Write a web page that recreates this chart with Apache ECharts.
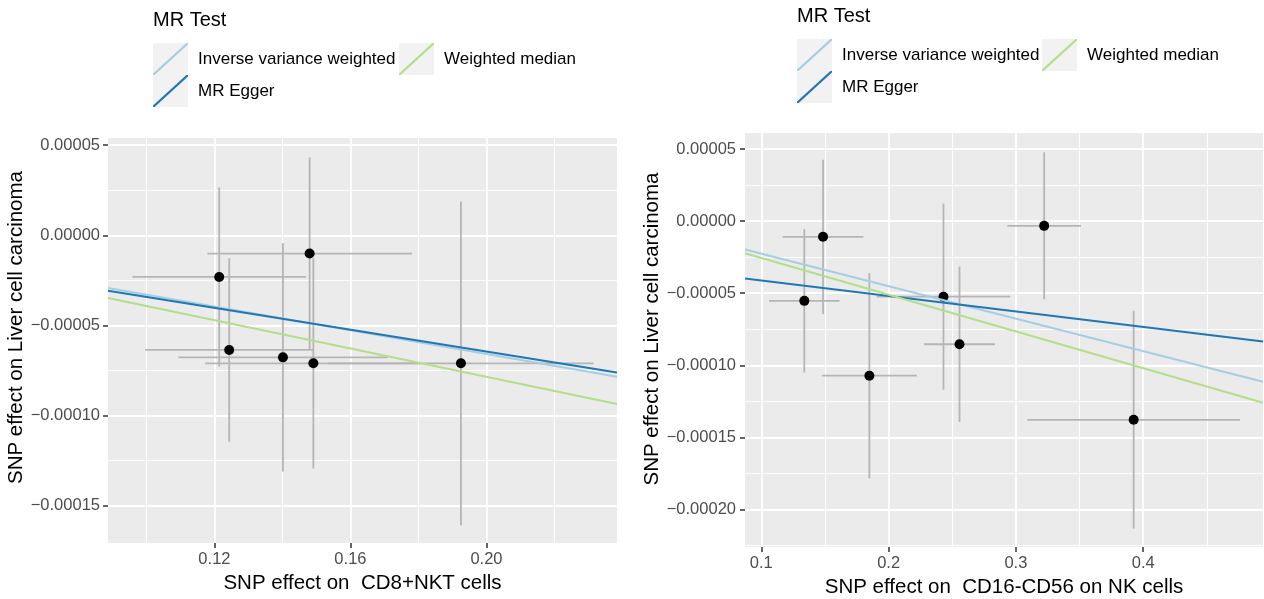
<!DOCTYPE html>
<html>
<head>
<meta charset="utf-8">
<title>MR scatter plots</title>
<script src="https://cdn.jsdelivr.net/npm/echarts@6.0.0/dist/echarts.min.js"></script>
<style>
  html, body { margin: 0; padding: 0; background: #fff; }
  #chart { width: 1264px; height: 599px; }
</style>
</head>
<body>
<div id="chart"></div>
<script>
// methods and their colours (legend order)
const methods = ['Inverse variance weighted', 'MR Egger', 'Weighted median'];
const methodColors = ['#A6CEE3', '#1F78B4', '#B2DF8A'];

// left panel: CD8+NKT cells -> liver cell carcinoma
const nktX = [0.1214, 0.12435, 0.14015, 0.1480, 0.1491, 0.1925];
const nktY = [-0.0000231, -0.0000636, -0.0000677, -0.0000101, -0.0000710, -0.0000710];
const nktSeX = [0.0255, 0.02475, 0.03075, 0.0301, 0.0318, 0.0390];
const nktSeY = [0.0000497, 0.0000509, 0.0000634, 0.0000533, 0.0000583, 0.0000898];
const nktSlope = [-0.000329, -0.000303, -0.0003926];
const nktIntercept = [0, -0.0000039, 0];
const nktXRange = [0.0887, 0.2384];
const nktYRange = [-0.0001707, 0.000054];
const nktXTicks = [0.12, 0.16, 0.20];
const nktXMinor = [0.10, 0.14, 0.18, 0.22];
const nktYTicks = [-0.00015, -0.0001, -0.00005, 0, 0.00005];
const nktYMinor = [-0.000125, -0.000075, -0.000025, 0.000025];

// right panel: CD16-CD56 on NK cells -> liver cell carcinoma
const nkX = [0.1338, 0.1485, 0.1849, 0.2431, 0.2557, 0.3222, 0.3925];
const nkY = [-0.0000553, -0.0000109, -0.0001072, -0.0000524, -0.0000854, -0.0000033, -0.0001378];
const nkSeX = [0.0277, 0.0317, 0.0373, 0.0524, 0.0278, 0.0289, 0.0835];
const nkSeY = [0.0000497, 0.0000535, 0.0000712, 0.0000645, 0.0000539, 0.0000510, 0.0000755];
const nkSlope = [-0.0002255, -0.0001074, -0.000255];
const nkIntercept = [0, -0.0000305, 0];
const nkXRange = [0.0872, 0.4941];
const nkYRange = [-0.000226, 0.0000611];
const nkXTicks = [0.1, 0.2, 0.3, 0.4];
const nkXMinor = [0.15, 0.25, 0.35, 0.45];
const nkYTicks = [-0.0002, -0.00015, -0.0001, -0.00005, 0, 0.00005];
const nkYMinor = [-0.000225, -0.000175, -0.000125, -0.000075, -0.000025, 0.000025];

const FONT = 'Liberation Sans, Arial, sans-serif';

function fmtY(v) {
    if (Math.abs(v) < 1e-12) return '0.00000';
    return (v < 0 ? '\u2212' : '') + Math.abs(v).toFixed(5);
}

// main axis (labels, ticks, major grid) + hidden axis for the minor grid
function makeAxes(gridIndex, range, major, minor, fmt, title, pos, nameGap, labelMargin, namePad) {
    const main = {
        type: 'value', gridIndex: gridIndex, min: range[0], max: range[1], position: pos,
        name: title, nameLocation: 'middle', nameGap: nameGap,
        nameTextStyle: { fontFamily: FONT, fontSize: 20.5, color: '#000', padding: namePad || 0 },
        axisLine: { show: false, onZero: false },
        axisTick: { show: true, length: 5, customValues: major, lineStyle: { color: '#333', width: 1.5 } },
        axisLabel: { customValues: major, formatter: fmt, fontFamily: FONT, fontSize: 16.5, color: '#4D4D4D', margin: labelMargin },
        splitLine: { show: true, lineStyle: { color: '#fff', width: 1.8 } }
    };
    const minorAxis = {
        type: 'value', gridIndex: gridIndex, min: range[0], max: range[1], position: pos,
        axisLine: { show: false, onZero: false },
        axisTick: { show: false, customValues: minor },
        axisLabel: { show: false, customValues: minor },
        splitLine: { show: true, lineStyle: { color: '#fff', width: 0.9 } }
    };
    return [main, minorAxis];
}

function errorBars(xs, ys, sx, sy, axisIdx) {
    return {
        type: 'custom', xAxisIndex: axisIdx, yAxisIndex: axisIdx, silent: true, z: 2,
        data: xs.map((x, i) => [x, ys[i], sx[i], sy[i]]),
        renderItem: function (params, api) {
            const x = api.value(0), y = api.value(1), ex = api.value(2), ey = api.value(3);
            const v0 = api.coord([x, y - ey]), v1 = api.coord([x, y + ey]);
            const h0 = api.coord([x - ex, y]), h1 = api.coord([x + ex, y]);
            const style = { stroke: '#B5B5B5', lineWidth: 1.8 };
            return {
                type: 'group',
                children: [
                    { type: 'line', shape: { x1: v0[0], y1: v0[1], x2: v1[0], y2: v1[1] }, style: style },
                    { type: 'line', shape: { x1: h0[0], y1: h0[1], x2: h1[0], y2: h1[1] }, style: style }
                ]
            };
        }
    };
}

function points(xs, ys, axisIdx) {
    return {
        type: 'scatter', xAxisIndex: axisIdx, yAxisIndex: axisIdx, silent: true, z: 3,
        symbolSize: 10, itemStyle: { color: '#000', opacity: 1 },
        data: xs.map((x, i) => [x, ys[i]])
    };
}

// one abline per method, drawn across the x range
function ablines(slope, intercept, xRange, axisIdx) {
    return methods.map((m, k) => ({
        type: 'line', name: m, xAxisIndex: axisIdx, yAxisIndex: axisIdx, z: 4,
        symbol: 'none', silent: true,
        lineStyle: { color: methodColors[k], width: 2 },
        itemStyle: { color: methodColors[k] },
        data: xRange.map(x => [x, intercept[k] + slope[k] * x])
    }));
}

const keyIcon = 'path://M0,32L1.6,32L35,1.5L35,0L33.4,0L0,30.5Z';
function legendItem(k, left, top) {
    return {
        left: left, top: top, padding: 0, itemWidth: 35, itemHeight: 32,
        selectedMode: false,
        data: [{ name: methods[k], icon: keyIcon, itemStyle: { color: methodColors[k], borderWidth: 0 } }],
        textStyle: { fontFamily: FONT, fontSize: 17, color: '#000', padding: [0, 0, 0, 5] }
    };
}
function keyBox(left, top) {
    return { type: 'rect', left: left, top: top, z: -1, shape: { width: 35, height: 32 }, style: { fill: '#F2F2F2' } };
}

const lx = makeAxes(0, nktXRange, nktXTicks, nktXMinor, v => v.toFixed(2), 'SNP effect on  CD8+NKT cells', 'bottom', 22, 8);
const ly = makeAxes(0, nktYRange, nktYTicks, nktYMinor, fmtY, 'SNP effect on Liver cell carcinoma', 'left', 77, 8, [0, 0, 0, 26]);
const rx = makeAxes(1, nkXRange, nkXTicks, nkXMinor, v => v.toFixed(1), 'SNP effect on  CD16-CD56 on NK cells', 'bottom', 26, 8);
const ry = makeAxes(1, nkYRange, nkYTicks, nkYMinor, fmtY, 'SNP effect on Liver cell carcinoma', 'left', 82, 9, [0, 0, 0, 22]);

const chart = echarts.init(document.getElementById('chart'));
chart.setOption({
    animation: false,
    backgroundColor: '#fff',
    textStyle: { fontFamily: FONT },
    title: [
        { text: 'MR Test', left: 153, top: 10, padding: 0, textStyle: { fontFamily: FONT, fontSize: 20, fontWeight: 'normal', color: '#000' } },
        { text: 'MR Test', left: 797, top: 6, padding: 0, textStyle: { fontFamily: FONT, fontSize: 20, fontWeight: 'normal', color: '#000' } }
    ],
    legend: [
        legendItem(0, 153, 43), legendItem(2, 399, 43), legendItem(1, 153, 75),
        legendItem(0, 797, 39), legendItem(2, 1042, 39), legendItem(1, 797, 71)
    ],
    graphic: [
        keyBox(153, 43), keyBox(399, 43), keyBox(153, 75),
        keyBox(797, 39), keyBox(1042, 39), keyBox(797, 71)
    ],
    grid: [
        { left: 108, top: 138, width: 509, height: 405, show: true, backgroundColor: '#EBEBEB', borderWidth: 0, containLabel: false, outerBoundsMode: 'none' },
        { left: 745, top: 133, width: 518, height: 414, show: true, backgroundColor: '#EBEBEB', borderWidth: 0, containLabel: false, outerBoundsMode: 'none' }
    ],
    xAxis: [lx[0], lx[1], rx[0], rx[1]],
    yAxis: [ly[0], ly[1], ry[0], ry[1]],
    series: [
        errorBars(nktX, nktY, nktSeX, nktSeY, 0),
        points(nktX, nktY, 0),
        ...ablines(nktSlope, nktIntercept, nktXRange, 0),
        errorBars(nkX, nkY, nkSeX, nkSeY, 2),
        points(nkX, nkY, 2),
        ...ablines(nkSlope, nkIntercept, nkXRange, 2)
    ]
});
</script>
</body>
</html>
